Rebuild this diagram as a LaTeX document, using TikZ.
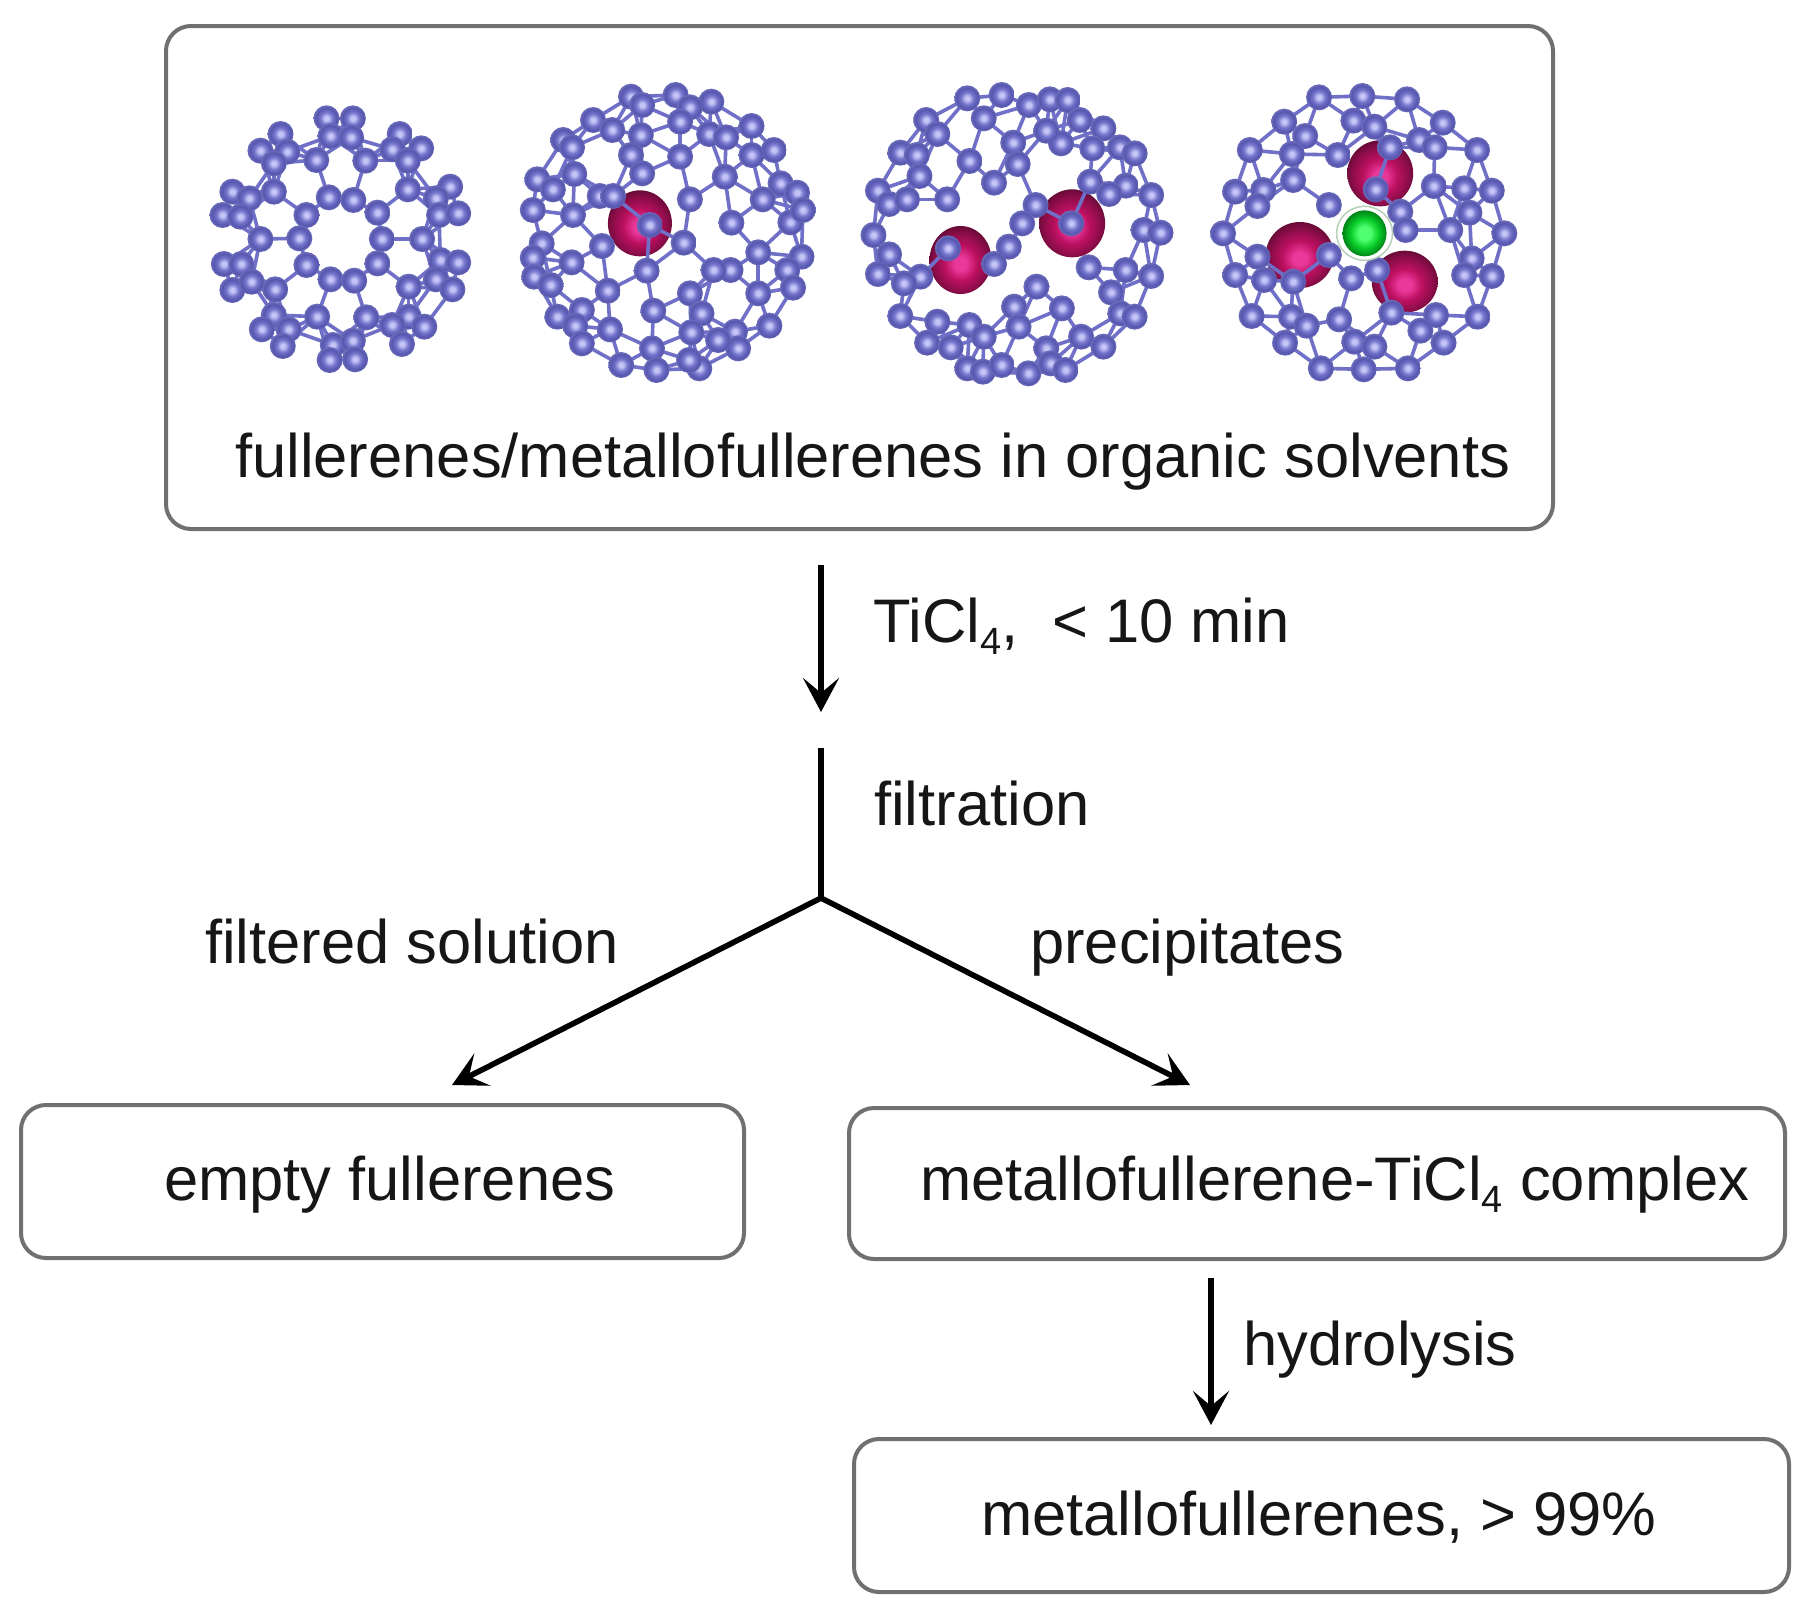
\documentclass[tikz,border=0pt]{standalone}
\usepackage{fontspec}
\usepackage{graphicx}
\setmainfont{Liberation Sans}
\usetikzlibrary{arrows.meta}
\definecolor{atomA}{HTML}{C4C4F6}
\definecolor{atomB}{HTML}{7474CC}
\definecolor{atomC}{HTML}{5656AE}
\definecolor{atomD}{HTML}{6C6CBC}
\definecolor{bondc}{HTML}{7070C8}
\definecolor{redA}{HTML}{E8389A}
\definecolor{redB}{HTML}{BC1060}
\definecolor{redC}{HTML}{8E0D4A}
\definecolor{redD}{HTML}{5E0A32}
\definecolor{grnA}{HTML}{50FF70}
\definecolor{grnB}{HTML}{08CC28}
\definecolor{grnC}{HTML}{008418}
\definecolor{halo}{HTML}{B8D0B8}
\definecolor{boxc}{HTML}{707070}
\definecolor{inkc}{HTML}{161616}
\pgfdeclareradialshading{atomsh}{\pgfpoint{0bp}{0bp}}{color(0bp)=(atomA); color(4bp)=(atomA); color(12bp)=(atomB); color(20bp)=(atomC); color(25bp)=(atomD); color(50bp)=(atomD)}
\pgfdeclareradialshading{redsh}{\pgfpoint{0bp}{-3bp}}{color(0bp)=(redA); color(5bp)=(redA); color(13bp)=(redB); color(21bp)=(redC); color(28bp)=(redD); color(50bp)=(redD)}
\pgfdeclareradialshading{grnsh}{\pgfpoint{0bp}{0bp}}{color(0bp)=(grnA); color(7bp)=(grnA); color(16bp)=(grnB); color(25bp)=(grnC); color(50bp)=(grnC)}
\newcommand{\textsz}{\fontsize{61.5}{70}\selectfont}
\newcommand{\subfour}{\raisebox{-0.2em}{\fontsize{38}{38}\selectfont 4}}
% atoms in crop pixels; x runs 2.24 and y 3 crop pixels to one picture pixel
\newcommand{\drawbonds}[1]{%
  \foreach \xa/\ya [count=\i] in #1 {%
    \foreach \xb/\yb [count=\j] in #1 {%
      \ifnum\j>\i\relax
        \ifnum\numexpr(\xa-\xb)*(\xa-\xb)*9+(\ya-\yb)*(\ya-\yb)*5\relax<100000\relax
          \draw[bondline] (\xa,\ya) -- (\xb,\yb);
        \fi
      \fi
    }%
  }%
}
\newcommand{\drawatoms}[1]{%
  \foreach \xa/\ya in #1 { \shade[shading=atomsh] (\xa,\ya) circle[radius=13pt]; }%
}
\def\atomsA{373/175,432/175,382/228,428/232,270/222,537/222,225/272,285/275,585/265,520/268,555/302,350/300,460/302,255/310,255/395,378/412,433/420,555/388,162/395,650/380,200/415,618/415,328/465,487/458,140/465,180/470,625/465,668/460,225/537,312/535,497/537,587/537,143/612,182/612,328/615,487/610,628/600,668/607,382/658,435/662,258/688,557/680,162/690,205/665,618/658,655/688,255/765,352/770,462/772,557/770,228/808,288/808,520/795,592/800,275/858,387/855,432/842,542/852,380/900,437/898}
\def\atomsB{1055/110,1155/105,1235/125,1080/135,1187/142,1165/185,970/180,1325/198,1013/210,1077/225,1230/222,1268/232,903/240,923/262,1375/270,1325/285,1055/285,1165/290,928/342,1080/340,1265/350,845/358,880/388,1390/370,1427/398,985/408,1015/408,1187/418,1350/418,835/450,925/465,1097/495,1280/488,1412/487,1440/450,990/558,1173/548,855/550,1340/577,835/593,1437/590,922/607,1090/632,1278/630,1240/630,1405/630,838/650,875/675,1418/683,1003/692,1187/700,1340/700,890/770,945/750,1105/752,1213/760,930/797,1008/808,1190/817,1288/815,1365/797,945/850,1102/865,1295/865,1250/840,1033/915,1112/930,1208/925,1185/900}
\def\atomsC{285/115,362/105,423/135,470/118,510/120,193/180,322/175,537/180,590/205,218/222,388/248,495/250,462/212,565/265,627/262,660/280,135/278,172/285,290/303,398/312,178/348,345/368,560/365,640/377,603/402,697/405,85/392,110/432,150/418,240/418,438/435,408/490,518/490,680/510,718/518,75/525,242/565,378/560,110/583,345/612,557/622,640/630,697/648,85/642,180/650,143/670,440/680,607/697,390/740,497/745,135/768,218/785,628/760,660/770,290/795,400/800,322/830,540/830,195/848,248/862,590/860,462/865,285/925,320/935,362/915,422/940,472/910,505/930}
\def\atomsD{1073/112,1170/108,1270/118,995/185,1150/182,1197/200,1350/188,1042/228,1232/262,1297/240,1332/262,918/270,1012/282,1115/285,1427/270,1015/360,1330/378,1398/385,1200/388,1460/392,885/395,948/390,935/438,1095/435,1255/455,1410/458,858/520,1267/510,1367/510,1488/520,935/590,1095/585,1415/595,885/645,950/660,1015/665,1145/655,1203/630,1398/645,1460/648,922/768,1010/770,1045/797,1118/778,1235/758,1335/765,1428/770,997/848,1152/845,1197/860,1300/812,1352/848,1077/925,1173/928,1272/925}
\tikzset{
  bondline/.style={draw=bondc,line width=3.6pt},
  panel/.style={draw=boxc,fill=white,line width=4pt,rounded corners=25pt,inner sep=0pt,outer sep=0pt,anchor=north west},
  label/.style={inner sep=0pt,anchor=base west,text=inkc,font=\textsz},
  flow/.style={draw=black,line width=5.6pt},
  flowtip/.style={flow,-{Stealth[length=34pt,width=36pt,inset=15pt]}},
  crop/.style={x=0.44643pt,y=-0.33333pt},
  redball/.style={shading=redsh},
}
\begin{document}
\begin{tikzpicture}[x=1pt,y=-1pt]
\useasboundingbox (0,0) rectangle (1810,1614);
\fill[white] (0,0) rectangle (1810,1614);
% boxes
\node[panel,minimum width=1387pt,minimum height=503pt] (top) at (166,26) {};
\node[panel,minimum width=723pt,minimum height=153pt] (empty) at (21,1105) {};
\node[panel,minimum width=936pt,minimum height=151pt] (complex) at (849,1108) {};
\node[panel,minimum width=935pt,minimum height=153pt] (pure) at (854,1439) {};
% molecules
\begin{scope}[shift={(160,60)},crop]
  \drawbonds{\atomsA}\drawatoms{\atomsA}
  \shade[redball] (1075,490) ellipse[x radius=32pt,y radius=33pt];
  \drawbonds{\atomsB}\drawatoms{\atomsB}
\end{scope}
\begin{scope}[shift={(840,60)},crop]
  \shade[redball] (520,490) ellipse[x radius=33pt,y radius=34pt];
  \shade[redball] (270,600) ellipse[x radius=31pt,y radius=34pt];
  \drawbonds{\atomsC}\drawatoms{\atomsC}
  \shade[redball] (1210,340) ellipse[x radius=33pt,y radius=33pt];
  \shade[redball] (1030,585) ellipse[x radius=34pt,y radius=33pt];
  \shade[redball] (1265,665) ellipse[x radius=33pt,y radius=31pt];
  \drawbonds{\atomsD}\drawatoms{\atomsD}
  \fill[white,draw=halo,line width=1.5pt] (1175,520) ellipse[x radius=28pt,y radius=27pt];
  \shade[shading=grnsh] (1175,520) ellipse[x radius=22pt,y radius=23pt];
\end{scope}
% texts
\node[label] (t1) at (235,477) {fullerenes/metallofullerenes in organic solvents};
\node[label] (t2) at (873,642) {TiCl\subfour,\hspace{0.55em}< 10 min};
\node[label] (t3) at (874,825) {filtration};
\node[label] (t4) at (205,963) {filtered solution};
\node[label] (t5) at (1030,963) {precipitates};
\node[label] (t6) at (164,1200) {empty fullerenes};
\node[label] (t7) at (920,1200) {metallofullerene-TiCl\subfour{} complex};
\node[label] (t8) at (1243,1365) {hydrolysis};
\node[label] (t9) at (981,1535) {metallofullerenes, > 99\%};
% connectors
\coordinate (a1) at (821,565);
\coordinate (a2) at (821,712);
\coordinate (b1) at (821,748);
\coordinate (junction) at (821,898);
\coordinate (left end) at (452,1085);
\coordinate (right end) at (1190,1085);
\coordinate (h1) at (1211,1278);
\coordinate (h2) at (1211,1425);
\draw[flowtip] (a1) -- (a2);
\draw[flow] (b1) -- (junction);
\draw[flowtip] (junction) -- (left end);
\draw[flowtip] (junction) -- (right end);
\draw[flowtip] (h1) -- (h2);
\end{tikzpicture}
\end{document}
